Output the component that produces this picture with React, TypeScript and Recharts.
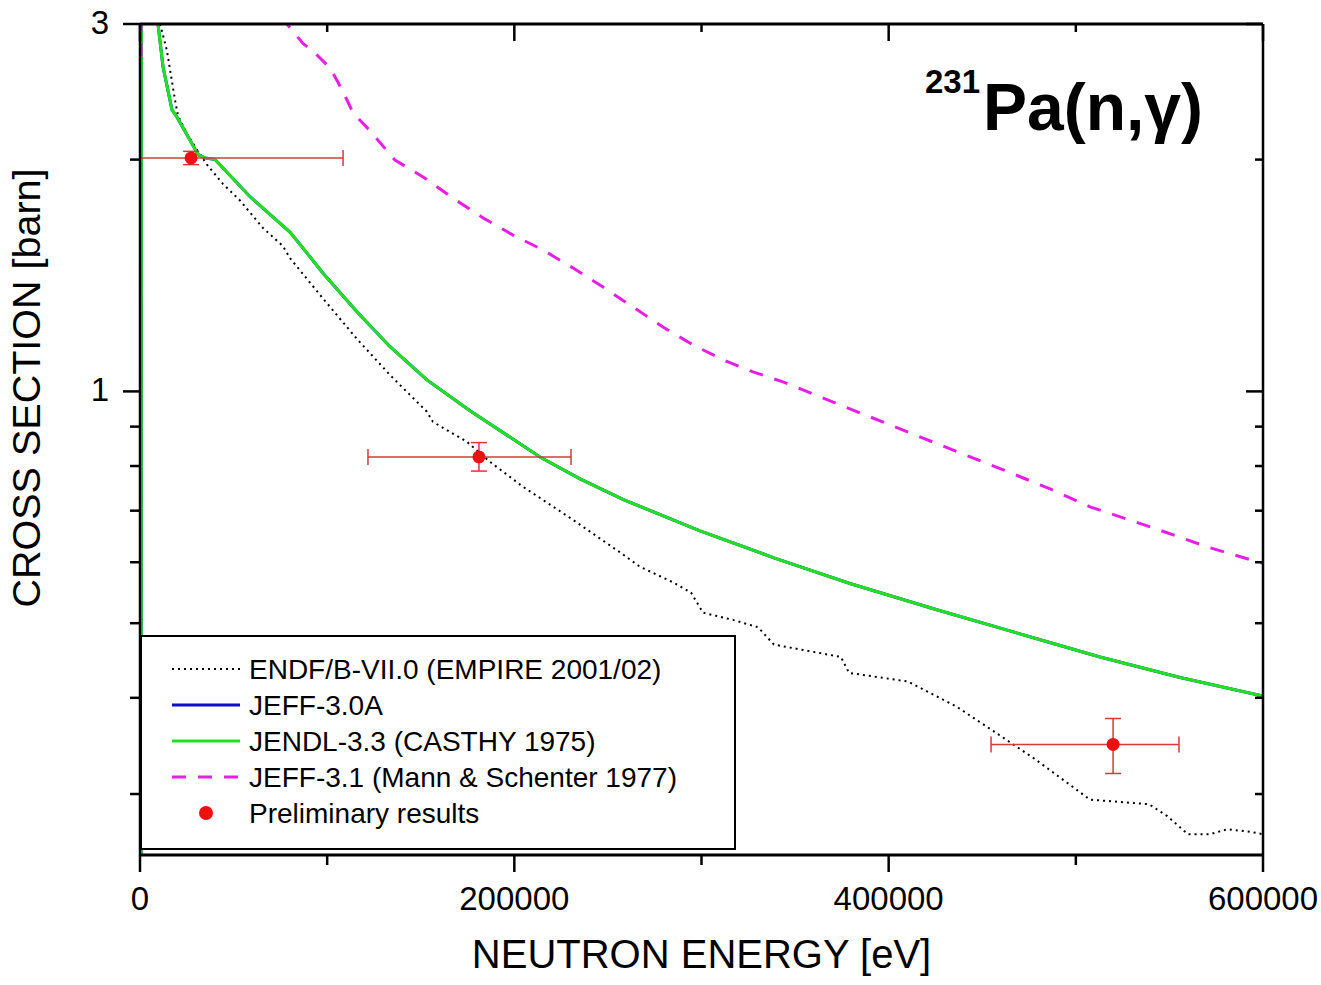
import React from "react";
import {
  ComposedChart,
  Line,
  Scatter,
  ErrorBar,
  XAxis,
  YAxis,
  Legend,
  Label,
} from "recharts";

const FONT = "'Liberation Sans', Arial, Helvetica, sans-serif";

// ENDF/B-VII.0 (EMPIRE 2001/02)
const endfEnergy = [
  10700, 14400, 18700, 20300, 25100, 30500, 35800, 44300, 53400, 65700, 76400,
  80100, 97800, 115900, 133600, 153300, 156500, 174700, 187000, 204600, 231400,
  258100, 267100, 284800, 294400, 300800, 316800, 330200, 338700, 374500,
  378800, 410300, 436000, 456800, 478200, 507600, 539100, 548700, 559900,
  571700, 580800, 593100, 600000,
];
const endfXs = [
  3.0, 2.77, 2.39, 2.28, 2.16, 2.06, 1.97, 1.86, 1.77, 1.63, 1.544, 1.49, 1.32,
  1.17, 1.05, 0.941, 0.913, 0.86, 0.81, 0.752, 0.681, 0.614, 0.592, 0.565,
  0.548, 0.516, 0.505, 0.494, 0.469, 0.452, 0.431, 0.42, 0.39, 0.361, 0.333,
  0.295, 0.291, 0.281, 0.266, 0.266, 0.27, 0.268, 0.266,
];

// JEFF-3.0A
const jeff30Energy = [
  600, 900, 9600, 12300, 17100, 19800, 26700, 31000, 34700, 40100, 58800, 80100,
  87100, 97800, 115900, 133600, 153300, 176300, 213700, 235100, 258600, 299200,
  338700, 379300, 425300, 478200, 512900, 555700, 600000,
];
const jeff30Xs = [
  0.2, 40, 3.0, 2.64, 2.32, 2.27, 2.12, 2.03, 2.01, 2.0, 1.79, 1.61, 1.535,
  1.424, 1.269, 1.143, 1.035, 0.944, 0.822, 0.77, 0.723, 0.659, 0.608, 0.563,
  0.521, 0.478, 0.452, 0.425, 0.402,
];

// JENDL-3.3 (CASTHY 1975)
const jendlEnergy = [
  600, 900, 9600, 12300, 17100, 19800, 26700, 31000, 34700, 40100, 58800, 80100,
  87100, 97800, 115900, 133600, 153300, 176300, 213700, 235100, 258600, 299200,
  338700, 379300, 425300, 478200, 512900, 555700, 600000,
];
const jendlXs = [
  0.2, 40, 3.0, 2.64, 2.32, 2.27, 2.12, 2.03, 2.01, 2.0, 1.79, 1.61, 1.535,
  1.424, 1.269, 1.143, 1.035, 0.944, 0.822, 0.77, 0.723, 0.659, 0.608, 0.563,
  0.521, 0.478, 0.452, 0.425, 0.402,
];

// JEFF-3.1 (Mann & Schenter 1977)
const jeff31Energy = [
  600, 900, 78500, 87100, 93500, 101500, 105800, 110600, 113800, 122900, 136200,
  152300, 167200, 183300, 199300, 215300, 231400, 247400, 263400, 279400,
  295500, 311500, 327500, 343500, 379300, 406100, 432800, 459500, 486300,
  507600, 541300, 571200, 600000,
];
const jeff31Xs = [
  2.72, 40, 3.0, 2.83, 2.75, 2.63, 2.52, 2.39, 2.3, 2.18, 1.997, 1.892, 1.782,
  1.68, 1.596, 1.526, 1.446, 1.366, 1.287, 1.212, 1.149, 1.099, 1.06, 1.029,
  0.949, 0.894, 0.842, 0.794, 0.747, 0.708, 0.665, 0.627, 0.598,
];

// Preliminary results with asymmetric uncertainties
const prelimEnergy = [27300, 181100, 519900];
const prelimXs = [2.01, 0.822, 0.348];
const prelimEnergyLow = [27300, 59300, 65200];
const prelimEnergyHigh = [81200, 49200, 35200];
const prelimXsLow = [0.04, 0.034, 0.029];
const prelimXsHigh = [0.04, 0.036, 0.028];

const energyTicks = [0, 100000, 200000, 300000, 400000, 500000, 600000];
const energyLabels = [0, 200000, 400000, 600000];
const xsTicks = [0.3, 0.4, 0.5, 0.6, 0.7, 0.8, 0.9, 1, 2, 3];
const xsLabels = [1, 3];

const toPoints = (energy: number[], xs: number[]) =>
  energy.map((e, i) => ({ e, s: xs[i] }));

const endfData = toPoints(endfEnergy, endfXs);
const jeff30Data = toPoints(jeff30Energy, jeff30Xs);
const jendlData = toPoints(jendlEnergy, jendlXs);
const jeff31Data = toPoints(jeff31Energy, jeff31Xs);
const prelimData = prelimEnergy.map((e, i) => ({
  e,
  s: prelimXs[i],
  eErr: [prelimEnergyLow[i], prelimEnergyHigh[i]],
  sErr: [prelimXsLow[i], prelimXsHigh[i]],
}));

const legendItems = [
  { name: "ENDF/B-VII.0 (EMPIRE 2001/02)", color: "#000000", dash: "2 4", width: 2, marker: false },
  { name: "JEFF-3.0A", color: "#1010c8", dash: undefined, width: 3, marker: false },
  { name: "JENDL-3.3 (CASTHY 1975)", color: "#22e022", dash: undefined, width: 3, marker: false },
  { name: "JEFF-3.1 (Mann & Schenter 1977)", color: "#e61ee6", dash: "14 12", width: 3, marker: false },
  { name: "Preliminary results", color: "#f01010", dash: undefined, width: 0, marker: true },
];

const BottomTick = (props: any) => {
  const { x, y, payload } = props;
  const major = energyLabels.includes(payload.value);
  return (
    <g>
      <line x1={x} x2={x} y1={y} y2={y + (major ? 17 : 10)} stroke="#000" strokeWidth={2.5} />
      {major && (
        <text x={x} y={y + 55} textAnchor="middle" fontSize={33} fontFamily={FONT} fill="#000">
          {payload.value}
        </text>
      )}
    </g>
  );
};

const TopTick = (props: any) => {
  const { x, y, payload } = props;
  const major = energyLabels.includes(payload.value);
  return <line x1={x} x2={x} y1={y} y2={y + (major ? 17 : 8)} stroke="#000" strokeWidth={2.5} />;
};

const LeftTick = (props: any) => {
  const { x, y, payload } = props;
  const major = xsLabels.includes(payload.value);
  return (
    <g>
      <line x1={x - (major ? 17 : 10)} x2={x} y1={y} y2={y} stroke="#000" strokeWidth={2.5} />
      {major && (
        <text x={x - 31} y={y + 10} textAnchor="end" fontSize={33} fontFamily={FONT} fill="#000">
          {payload.value}
        </text>
      )}
    </g>
  );
};

const RightTick = (props: any) => {
  const { x, y, payload } = props;
  const major = xsLabels.includes(payload.value);
  return <line x1={x - (major ? 17 : 8)} x2={x} y1={y} y2={y} stroke="#000" strokeWidth={2.5} />;
};

const EnergyTitle = (props: any) => {
  const vb = props.viewBox || { x: 140, y: 855, width: 1123, height: 130 };
  return (
    <text x={vb.x + vb.width / 2} y={vb.y + 113} textAnchor="middle" fontSize={40} fontFamily={FONT} fill="#000">
      NEUTRON ENERGY [eV]
    </text>
  );
};

const XsTitle = (props: any) => {
  const vb = props.viewBox || { x: 0, y: 24, width: 140, height: 831 };
  return (
    <text
      transform={`translate(${vb.x + 40}, ${vb.y + 364}) rotate(-90)`}
      textAnchor="middle"
      fontSize={39.5}
      fontFamily={FONT}
      fill="#000"
    >
      CROSS SECTION [barn]
    </text>
  );
};

const LegendBox = () => (
  <svg width={596} height={215} style={{ display: "block" }}>
    <rect x={1} y={1} width={594} height={213} fill="#fff" stroke="#000" strokeWidth={2} />
    {legendItems.map((item, i) => {
      const cy = 34 + i * 36;
      return (
        <g key={item.name}>
          {item.marker ? (
            <circle cx={66} cy={cy} r={7} fill={item.color} />
          ) : (
            <line
              x1={32}
              x2={100}
              y1={cy}
              y2={cy}
              stroke={item.color}
              strokeWidth={item.width}
              strokeDasharray={item.dash}
            />
          )}
          <text x={109} y={cy + 10} fontSize={28} fontFamily={FONT} fill="#000">
            {item.name}
          </text>
        </g>
      );
    })}
  </svg>
);

const dotShape = (props: any) => <circle cx={props.cx} cy={props.cy} r={6.5} fill="#f01010" />;

export default function App() {
  return (
    <div
      style={{
        position: "absolute",
        left: 0,
        top: 0,
        width: 1321,
        height: 985,
        background: "#fff",
        fontFamily: FONT,
      }}
    >
      <ComposedChart width={1321} height={985} margin={{ top: 0, right: 0, bottom: 0, left: 0 }}>
        <XAxis
          dataKey="e"
          type="number"
          domain={[0, 600000]}
          ticks={energyTicks}
          interval={0}
          allowDataOverflow
          height={130}
          tickSize={0}
          tickMargin={0}
          tickLine={false}
          tick={BottomTick}
          axisLine={{ stroke: "#000", strokeWidth: 3 }}
        >
          <Label content={EnergyTitle} />
        </XAxis>
        <XAxis
          xAxisId="top"
          orientation="top"
          dataKey="e"
          type="number"
          domain={[0, 600000]}
          ticks={energyTicks}
          interval={0}
          allowDataOverflow
          height={24}
          tickSize={0}
          tickMargin={0}
          tickLine={false}
          tick={TopTick}
          axisLine={{ stroke: "#000", strokeWidth: 3 }}
        />
        <YAxis
          dataKey="s"
          type="number"
          scale="log"
          domain={[0.25, 3]}
          ticks={xsTicks}
          interval={0}
          allowDataOverflow
          width={140}
          tickSize={0}
          tickMargin={0}
          tickLine={false}
          tick={LeftTick}
          axisLine={{ stroke: "#000", strokeWidth: 2.5 }}
        >
          <Label content={XsTitle} />
        </YAxis>
        <YAxis
          yAxisId="right"
          orientation="right"
          dataKey="s"
          type="number"
          scale="log"
          domain={[0.25, 3]}
          ticks={xsTicks}
          interval={0}
          allowDataOverflow
          width={58}
          tickSize={0}
          tickMargin={0}
          tickLine={false}
          tick={RightTick}
          axisLine={{ stroke: "#000", strokeWidth: 2.5 }}
        />

        <Line
          data={endfData}
          dataKey="s"
          name="ENDF/B-VII.0 (EMPIRE 2001/02)"
          stroke="#000"
          strokeWidth={2}
          strokeDasharray="2 4"
          dot={false}
          isAnimationActive={false}
        />
        <Line
          data={jeff30Data}
          dataKey="s"
          name="JEFF-3.0A"
          stroke="#1010c8"
          strokeWidth={3}
          dot={false}
          isAnimationActive={false}
        />
        <Line
          data={jendlData}
          dataKey="s"
          name="JENDL-3.3 (CASTHY 1975)"
          stroke="#22e022"
          strokeWidth={3}
          dot={false}
          isAnimationActive={false}
        />
        <Line
          data={jeff31Data}
          dataKey="s"
          name="JEFF-3.1 (Mann & Schenter 1977)"
          stroke="#e61ee6"
          strokeWidth={3}
          strokeDasharray="14 12"
          dot={false}
          isAnimationActive={false}
        />
        <Scatter
          data={prelimData}
          dataKey="s"
          name="Preliminary results"
          fill="#f01010"
          shape={dotShape}
          isAnimationActive={false}
        >
          <ErrorBar dataKey="eErr" direction="x" width={8} stroke="#d43a3a" strokeWidth={1.5} />
          <ErrorBar dataKey="sErr" direction="y" width={8} stroke="#d43a3a" strokeWidth={1.5} />
        </Scatter>

        <Legend
          layout="horizontal"
          verticalAlign="middle"
          align="center"
          content={LegendBox}
          wrapperStyle={{ left: 140, top: 635, width: 596, height: 215 }}
        />
      </ComposedChart>

      <svg
        width={1321}
        height={985}
        style={{ position: "absolute", left: 0, top: 0, pointerEvents: "none" }}
      >
        <text x={925} y={93} fontSize={33} fontWeight="bold" fontFamily={FONT} fill="#000">
          231
        </text>
        <text x={983} y={130} fontSize={66} fontWeight="bold" fontFamily={FONT} fill="#000">
          Pa(n,γ)
        </text>
      </svg>
    </div>
  );
}
